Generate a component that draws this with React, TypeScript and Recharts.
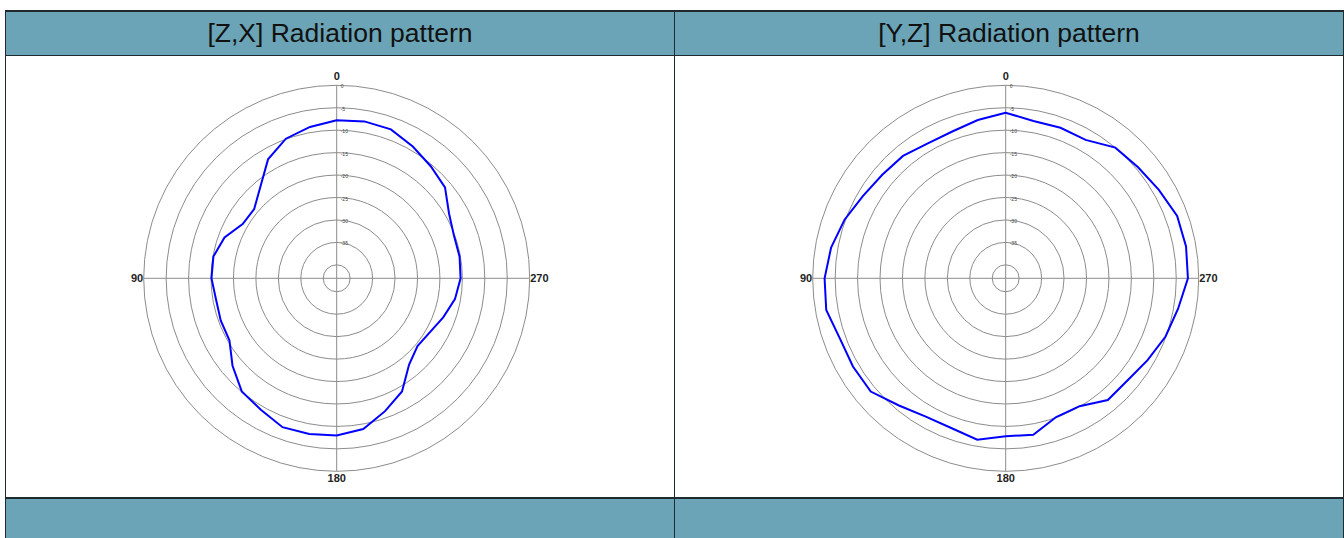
import React from 'react'
import {PolarAngleAxis, PolarGrid, PolarRadiusAxis, Radar, RadarChart} from 'recharts'

// azimuth in degrees: 0 at top, 90 left, 180 bottom, 270 right
const azimuths = [
  0, 10, 20, 30, 40, 50, 60, 70, 80, 90, 100, 110, 120, 130, 140, 150, 160, 170,
  180, 190, 200, 210, 220, 230, 240, 250, 260, 270, 280, 290, 300, 310, 320, 330, 340, 350
]

// relative gain, dB
const zxGain = [
  -7.8, -8.75, -9.9, -12.4, -16.5, -19.0, -18.8, -16.4, -15.1, -15.1, -15.7, -15.5,
  -15.4, -12.7, -10.1, -9.2, -7.7, -7.8, -8.0, -8.9, -11.5, -13.9, -17.9, -19.5,
  -19.0, -17.7, -16.25, -15.4, -15.2, -15.2, -14.1, -11.5, -10.4, -9.1, -7.7, -7.5
]
const yzGain = [
  -6.1, -7.2, -8.2, -8.3, -7.4, -7.1, -6.3, -4.8, -3.5, -2.65, -2.4, -3.7,
  -3.7, -3.75, -6.0, -7.4, -7.5, -6.5, -7.8, -7.6, -10.1, -10.1, -7.6, -7.6,
  -6.5, -5.1, -4.0, -2.4, -2.2, -2.35, -3.6, -4.5, -5.0, -7.4, -7.3, -7.4
]

const ringTicks = [-40, -35, -30, -25, -20, -15, -10, -5, 0]
const gainMin = -42.7
const compassLabels = [0, 90, 180, 270]

const titles = ['[Z,X] Radiation pattern', '[Y,Z] Radiation pattern']

// close the loop so the last segment returns to 0 deg
const data = [...azimuths, 360].map((az, i) => ({
  az,
  zx: zxGain[i % azimuths.length],
  yz: yzGain[i % azimuths.length]
}))

const HEADER_BG = '#6aa4b6'
const LINE = '#1e2a2e'
const R = 193

const CompassTick = (props: any) => {
  const {cx, cy, payload} = props
  const v = payload.value
  if (!compassLabels.includes(v)) return <g />
  const common = {fontSize: 11, fontWeight: 700, fill: '#222', fontFamily: 'Liberation Sans, Arial, sans-serif'}
  if (v === 0) return <text {...common} x={cx} y={cy - R - 5} textAnchor='middle'>{v}</text>
  if (v === 180) return <text {...common} x={cx} y={cy + R + 11} textAnchor='middle'>{v}</text>
  if (v === 90) return <text {...common} x={cx - R - 0.5} y={cy + 4} textAnchor='end'>{v}</text>
  return <text {...common} x={cx + R + 0.5} y={cy + 4} textAnchor='start'>{v}</text>
}

const RingTick = (props: any) => {
  const {x, y, payload} = props
  if (payload.value === ringTicks[0]) return <g />
  return (
    <text x={x + 4} y={y + 3} fontSize={5} fill='#444' fontFamily='Liberation Sans, Arial, sans-serif'>
      {payload.value}
    </text>
  )
}

const Pattern = ({dataKey}: {dataKey: string}) => (
  <RadarChart
    width={664}
    height={441}
    cx={330.7}
    cy={222.3}
    outerRadius={R}
    startAngle={90}
    endAngle={450}
    data={data}
    margin={{top: 0, right: 0, bottom: 0, left: 0}}
  >
    <PolarGrid gridType='circle' stroke='#8c8c8c' />
    <PolarAngleAxis
      dataKey='az'
      type='number'
      domain={[0, 360]}
      ticks={compassLabels}
      tick={<CompassTick />}
      tickLine={false}
      axisLine={false}
    />
    <PolarRadiusAxis
      angle={90}
      type='number'
      domain={[gainMin, 0]}
      ticks={ringTicks}
      axisLine={false}
      tickLine={false}
      tick={<RingTick />}
    />
    <Radar
      dataKey={dataKey}
      stroke='#0000ff'
      strokeWidth={2}
      fill='none'
      fillOpacity={0}
      dot={false}
      isAnimationActive={false}
    />
  </RadarChart>
)

const cellBase: React.CSSProperties = {position: 'absolute', boxSizing: 'border-box'}

export default function App() {
  return (
    <div style={{position: 'absolute', left: 0, top: 0, width: 1344, height: 538, overflow: 'hidden', background: '#fff'}}>
      {/* header row */}
      {titles.map((t, i) => (
        <div
          key={t}
          style={{
            ...cellBase,
            left: i === 0 ? 5 : 674,
            top: 10,
            width: 670,
            height: 46,
            background: HEADER_BG,
            border: `1px solid ${LINE}`,
            borderTopWidth: 2,
            color: '#111',
            fontFamily: 'Liberation Sans, Arial, sans-serif',
            fontSize: 26.5,
            display: 'flex',
            alignItems: 'center',
            justifyContent: 'center'
          }}
        >
          {t}
        </div>
      ))}
      {/* chart row */}
      {[0, 1].map((i) => (
        <div
          key={i}
          style={{
            ...cellBase,
            left: i === 0 ? 5 : 674,
            top: 55,
            width: 670,
            height: 443,
            borderLeft: `1px solid ${LINE}`,
            borderRight: `1px solid ${LINE}`
          }}
        />
      ))}
      <div style={{position: 'absolute', left: 6, top: 56}}>
        <Pattern dataKey='zx' />
      </div>
      <div style={{position: 'absolute', left: 675, top: 56}}>
        <Pattern dataKey='yz' />
      </div>
      {/* footer row */}
      {[0, 1].map((i) => (
        <div
          key={'f' + i}
          style={{
            ...cellBase,
            left: i === 0 ? 5 : 674,
            top: 497,
            width: 670,
            height: 60,
            background: HEADER_BG,
            border: `1px solid ${LINE}`,
            borderTopWidth: 2
          }}
        />
      ))}
    </div>
  )
}
